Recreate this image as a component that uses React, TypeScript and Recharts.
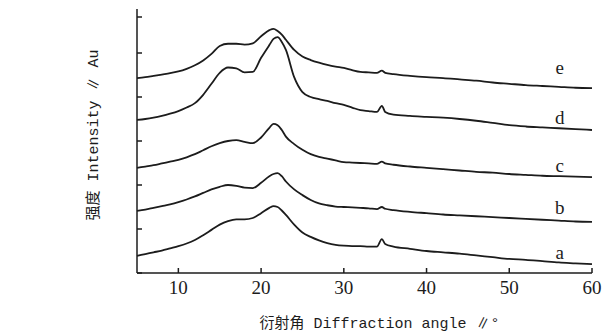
import React from 'react';
import { LineChart, Line, XAxis, YAxis, ReferenceDot } from 'recharts';

// diffraction angle (2θ, degrees)
const angles = [5, 6, 7, 8, 9, 10, 11, 12, 13, 14, 15, 16, 17, 18, 19, 20, 21, 21.5, 22, 22.5, 23, 24, 25, 26, 27, 28, 29, 30, 31, 32, 33, 34, 34.6, 35, 36, 38, 40, 42, 44, 46, 48, 50, 52, 54, 56, 58, 60];

// stacked intensity curves (arbitrary units, offset)
const curveA = [0.39, 0.43, 0.47, 0.51, 0.56, 0.61, 0.67, 0.75, 0.86, 0.98, 1.1, 1.18, 1.22, 1.22, 1.25, 1.36, 1.48, 1.52, 1.5, 1.42, 1.32, 1.1, 0.92, 0.82, 0.74, 0.68, 0.64, 0.62, 0.61, 0.61, 0.6, 0.6, 0.77, 0.66, 0.6, 0.55, 0.5, 0.47, 0.44, 0.4, 0.36, 0.32, 0.3, 0.27, 0.24, 0.22, 0.2];
const curveB = [1.41, 1.44, 1.48, 1.52, 1.56, 1.61, 1.67, 1.74, 1.82, 1.9, 1.96, 2.0, 1.98, 1.94, 1.93, 2.05, 2.2, 2.25, 2.27, 2.2, 2.08, 1.9, 1.77, 1.66, 1.58, 1.54, 1.51, 1.5, 1.49, 1.48, 1.47, 1.45, 1.5, 1.46, 1.43, 1.39, 1.36, 1.33, 1.31, 1.29, 1.27, 1.25, 1.23, 1.21, 1.19, 1.17, 1.16];
const curveC = [2.39, 2.42, 2.45, 2.49, 2.53, 2.57, 2.63, 2.7, 2.79, 2.88, 2.95, 3.0, 3.02, 2.98, 2.95, 3.08, 3.3, 3.39, 3.36, 3.25, 3.1, 2.93, 2.8, 2.7, 2.64, 2.6, 2.56, 2.52, 2.51, 2.5, 2.49, 2.48, 2.53, 2.49, 2.46, 2.42, 2.39, 2.36, 2.33, 2.3, 2.28, 2.25, 2.23, 2.21, 2.2, 2.19, 2.18];
const curveD = [3.48, 3.5, 3.53, 3.57, 3.62, 3.68, 3.76, 3.86, 4.05, 4.3, 4.55, 4.67, 4.65, 4.56, 4.57, 4.89, 5.18, 5.32, 5.36, 5.25, 5.07, 4.45, 4.11, 4.0, 3.95, 3.91, 3.86, 3.82, 3.76, 3.7, 3.68, 3.66, 3.8, 3.66, 3.6, 3.57, 3.55, 3.53, 3.5, 3.46, 3.41, 3.36, 3.33, 3.31, 3.29, 3.27, 3.25];
const curveE = [4.43, 4.45, 4.48, 4.51, 4.54, 4.58, 4.64, 4.72, 4.83, 4.98, 5.16, 5.21, 5.21, 5.19, 5.22, 5.38, 5.52, 5.55, 5.5, 5.42, 5.3, 5.07, 4.92, 4.84, 4.78, 4.73, 4.69, 4.66, 4.61, 4.57, 4.56, 4.55, 4.6, 4.55, 4.52, 4.48, 4.45, 4.43, 4.4, 4.37, 4.33, 4.3, 4.27, 4.25, 4.23, 4.21, 4.2];

const curveNames = ['a', 'b', 'c', 'd', 'e'];
const curveLabelY = [0.48, 1.5, 2.45, 3.55, 4.68];
const labelAngle = 56.1;

const xTicks = [10, 20, 30, 40, 50, 60];
const yTicks = [0, 1, 2, 3, 4, 5, 6];

const data = angles.map((angle, i) => ({
    angle,
    a: curveA[i],
    b: curveB[i],
    c: curveC[i],
    d: curveD[i],
    e: curveE[i],
}));

const INK = '#1c1c1c';
const SERIF = '"Liberation Serif", "DejaVu Serif", serif';
const TITLE_FONT = '"Liberation Mono", "Noto Sans CJK SC", monospace';

// ticks point into the plot, so draw them ourselves
const XTick = ({ x, y, payload }: any) => (
    <g>
        <line x1={x} y1={y} x2={x} y2={y - 5} stroke={INK} strokeWidth={1.5} />
        <text x={x} y={y + 21} textAnchor="middle" fontFamily={SERIF} fontSize={19} fill={INK}>
            {payload.value}
        </text>
    </g>
);

const YTick = ({ x, y }: any) => (
    <line x1={x} y1={y} x2={x + 5} y2={y} stroke={INK} strokeWidth={1.5} />
);

const XTitle = ({ viewBox }: any) => {
    const cx = viewBox.x + viewBox.width / 2 + 15;
    return (
        <text x={cx} y={viewBox.y + 55} textAnchor="middle" fontFamily={TITLE_FONT} fontSize={15} fill={INK}>
            衍射角 Diffraction angle ∥°
        </text>
    );
};

const YTitle = ({ viewBox }: any) => {
    const cx = viewBox.x + viewBox.width - 43;
    const cy = viewBox.y + viewBox.height / 2 - 6;
    return (
        <text
            x={cx}
            y={cy}
            transform={`rotate(-90 ${cx} ${cy})`}
            textAnchor="middle"
            dominantBaseline="middle"
            fontFamily={TITLE_FONT}
            fontSize={15}
            fill={INK}
        >
            强度 Intensity ∥ Au
        </text>
    );
};

export default function App() {
    return (
        <div style={{ width: 605, height: 325, background: '#fff' }}>
            <LineChart width={605} height={325} data={data} margin={{ top: 1, right: 21, bottom: 0, left: 69 }}>
                <XAxis
                    dataKey="angle"
                    type="number"
                    domain={[5, 60]}
                    ticks={xTicks}
                    height={60}
                    tickSize={0}
                    tickMargin={0}
                    tick={<XTick />}
                    axisLine={{ stroke: INK, strokeWidth: 1.5 }}
                    label={<XTitle />}
                />
                <YAxis
                    type="number"
                    domain={[0, 6]}
                    ticks={yTicks}
                    width={60}
                    tickSize={0}
                    tickMargin={0}
                    tick={<YTick />}
                    axisLine={{ stroke: INK, strokeWidth: 1.5 }}
                    label={<YTitle />}
                />
                {curveNames.map((key) => (
                    <Line
                        key={key}
                        type="monotone"
                        dataKey={key}
                        stroke={INK}
                        strokeWidth={1.8}
                        dot={false}
                        isAnimationActive={false}
                    />
                ))}
                {curveNames.map((name, i) => (
                    <ReferenceDot
                        key={`lbl-${name}`}
                        x={labelAngle}
                        y={curveLabelY[i]}
                        r={0}
                        fill="none"
                        stroke="none"
                        label={{ value: name, position: 'center', fontFamily: SERIF, fontSize: 19, fill: INK }}
                    />
                ))}
            </LineChart>
        </div>
    );
}
